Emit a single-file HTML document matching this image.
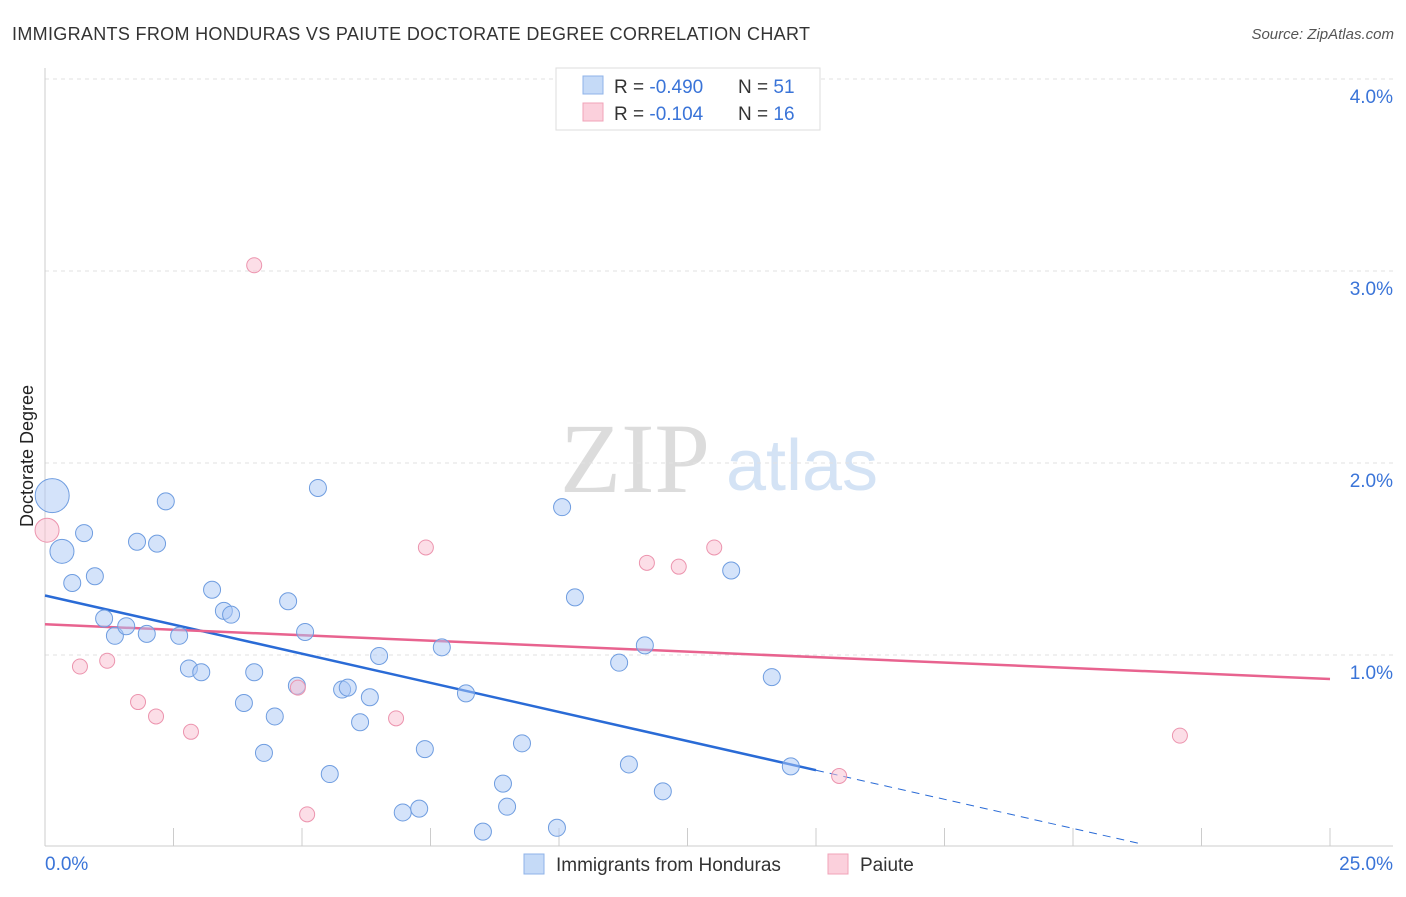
<!DOCTYPE html>
<html><head><meta charset="utf-8"><style>
body{margin:0;background:#fff;font-family:"Liberation Sans",sans-serif;}
</style></head><body>
<svg id="chart" width="1406" height="892" xmlns="http://www.w3.org/2000/svg" font-family="Liberation Sans, sans-serif">
<text x="12" y="40" font-size="18" fill="#333" textLength="798">IMMIGRANTS FROM HONDURAS VS PAIUTE DOCTORATE DEGREE CORRELATION CHART</text>
<text x="1394" y="39" font-size="15" fill="#555" font-style="italic" text-anchor="end">Source: ZipAtlas.com</text>
<text x="0" y="0" transform="translate(33,456) rotate(-90)" font-size="18" fill="#222" text-anchor="middle">Doctorate Degree</text>
<g>
<text x="635" y="492" font-size="100" fill="#dcdcdc" font-family="Liberation Serif, serif" text-anchor="middle">ZIP</text>
<text x="802" y="490" font-size="72" fill="#d4e3f5" text-anchor="middle">atlas</text>
</g>
<g id="grid"></g><g id="axes"></g><g id="lines"></g><g id="pts"></g>
<g>
<rect x="556" y="68" width="264" height="62" fill="#fff" stroke="#ddd"/>
<rect x="583" y="76" width="20" height="18" fill="#c5daf7" stroke="#8fb3e8"/>
<rect x="583" y="103" width="20" height="18" fill="#fbd0dc" stroke="#f0a3b8"/>
<text x="614" y="93" font-size="19" fill="#333">R = <tspan fill="#3a74d8">-0.490</tspan></text>
<text x="738" y="93" font-size="19" fill="#333">N = <tspan fill="#3a74d8">51</tspan></text>
<text x="614" y="120" font-size="19" fill="#333">R =  <tspan fill="#3a74d8">-0.104</tspan></text>
<text x="738" y="120" font-size="19" fill="#333">N = <tspan fill="#3a74d8">16</tspan></text>
</g>
<g>
<rect x="524" y="854" width="20" height="20" fill="#c5daf7" stroke="#8fb3e8"/>
<text x="556" y="871" font-size="19" fill="#333">Immigrants from Honduras</text>
<rect x="828" y="854" width="20" height="20" fill="#fbd0dc" stroke="#f0a3b8"/>
<text x="860" y="871" font-size="19" fill="#333">Paiute</text>
</g>
</svg>
<script>
const blueX=[0.14,0.33,0.53,0.76,0.97,1.15,1.36,1.58,1.79,1.98,2.18,2.35,2.61,2.80,3.04,3.25,3.48,3.62,3.87,4.07,4.26,4.47,4.73,4.90,5.06,5.31,5.54,5.78,5.89,6.13,6.32,6.50,6.96,7.28,7.39,7.72,8.19,8.52,8.91,8.99,9.28,9.96,10.06,10.31,11.17,11.36,11.67,12.02,13.35,14.14,14.51];
const blueY=[1.83,1.54,1.375,1.635,1.41,1.19,1.10,1.15,1.59,1.11,1.58,1.80,1.10,0.93,0.91,1.34,1.23,1.21,0.75,0.91,0.49,0.68,1.28,0.84,1.12,1.87,0.38,0.82,0.83,0.65,0.78,0.995,0.18,0.20,0.51,1.04,0.80,0.08,0.33,0.21,0.54,0.10,1.77,1.30,0.96,0.43,1.05,0.29,1.44,0.885,0.42];
const pinkX=[0.04,0.68,1.21,1.81,2.16,2.84,4.07,4.92,5.10,6.83,7.41,11.71,12.33,13.02,15.45,22.08];
const pinkY=[1.65,0.94,0.97,0.755,0.68,0.60,3.03,0.83,0.17,0.67,1.56,1.48,1.46,1.56,0.37,0.58];
const blueTrend=[1.31,0.40]; // y at x=0 and x=15
const pinkTrend=[1.16,0.875]; // y at x=0 and x=25
const yTicks=[1,2,3,4];
const yTickLabels=["1.0%","2.0%","3.0%","4.0%"];
const xTicks=[0,2.5,5,7.5,10,12.5,15,17.5,20,22.5,25];
const NS="http://www.w3.org/2000/svg";
const X=v=>45+v*51.4, Y=v=>847-v*192;
function mk(p,t,a){const e=document.createElementNS(NS,t);for(const k in a)e.setAttribute(k,a[k]);document.getElementById(p).appendChild(e);return e;}
yTicks.forEach((t,i)=>{
 const g=mk('grid','line',{x1:45,x2:1393,y1:Y(t),y2:Y(t),stroke:'#e2e2e2','stroke-dasharray':'4,4'});
 
 
 const l=mk('axes','text',{x:1393,y:Y(t)+24,'font-size':19,fill:'#3a74d8','text-anchor':'end'});l.textContent=yTickLabels[i];
 
 
});
mk('axes','line',{x1:45,x2:45,y1:68,y2:846,stroke:'#ccc'});
mk('axes','line',{x1:45,x2:1393,y1:846,y2:846,stroke:'#ccc'});
xTicks.forEach(t=>{const e=mk('axes','line',{x1:X(t),x2:X(t),y1:828,y2:846,stroke:'#ccc'});
 
 });
let a=mk('axes','text',{x:45,y:870,'font-size':19,fill:'#3a74d8'});a.textContent='0.0%';


a=mk('axes','text',{x:1393,y:870,'font-size':19,fill:'#3a74d8','text-anchor':'end'});a.textContent='25.0%';


const bs=(blueTrend[1]-blueTrend[0])/15, bEnd=-blueTrend[0]/bs;
let ln=mk('lines','line',{x1:X(0),y1:Y(blueTrend[0]),x2:X(15),y2:Y(blueTrend[1]),stroke:'#2a6bd6','stroke-width':2.5});


const endX=Math.min(bEnd-0.3,25);
ln=mk('lines','line',{x1:X(15),y1:Y(blueTrend[1]),x2:X(endX),y2:Y(blueTrend[0]+bs*endX),stroke:'#2a6bd6','stroke-width':1,'stroke-dasharray':'8,6'});


ln=mk('lines','line',{x1:X(0),y1:Y(pinkTrend[0]),x2:X(25),y2:Y(pinkTrend[1]),stroke:'#e8638f','stroke-width':2.5});


blueX.forEach((x,i)=>{const r=i==0?17:(i==1?12:8.5);
 const c=mk('pts','circle',{cx:X(x),cy:Y(blueY[i]),r:r,fill:'rgba(170,200,245,0.5)',stroke:'#6f9de0','stroke-width':1});
 
 });
pinkX.forEach((x,i)=>{const r=i==0?12:7.5;
 const c=mk('pts','circle',{cx:X(x),cy:Y(pinkY[i]),r:r,fill:'rgba(250,190,208,0.5)',stroke:'#ec94ae','stroke-width':1});
 
 });
</script>
</body></html>
